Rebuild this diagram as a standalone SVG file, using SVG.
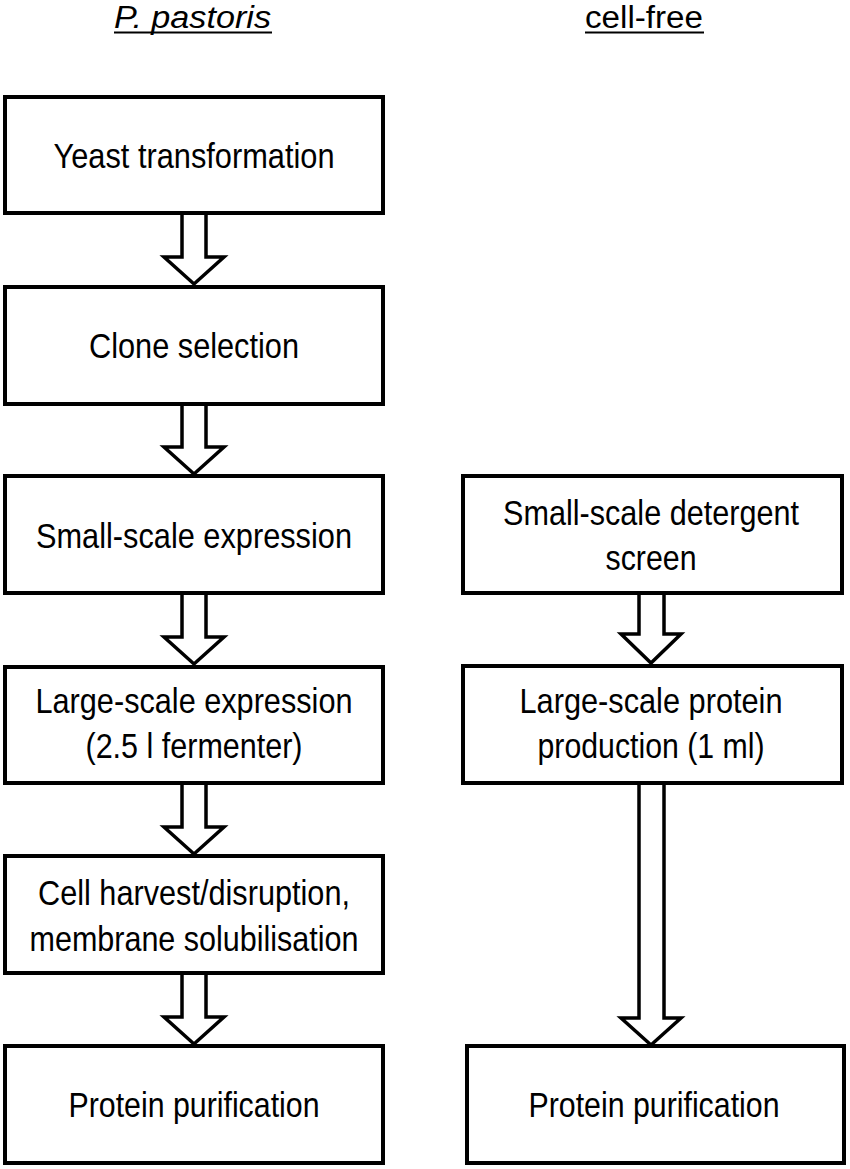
<svg xmlns="http://www.w3.org/2000/svg" width="850" height="1169" viewBox="0 0 850 1169">
<style>
  .box { fill: #fff; stroke: #000; stroke-width: 4; }
  .arr { fill: #fff; stroke: #000; stroke-width: 3.5; stroke-linejoin: miter; }
  .t { font-family: "Liberation Sans", Arial, sans-serif; font-size: 35px; fill: #000; text-anchor: middle; }
  .h { font-family: "Liberation Sans", Arial, sans-serif; font-size: 31px; fill: #000; }
  .ul { stroke: #000; stroke-width: 2; }
</style>
<rect width="850" height="1169" fill="#fff"/>
<g id="headers">
  <text class="h" x="114" y="28" font-style="italic" textLength="157" lengthAdjust="spacingAndGlyphs">P. pastoris</text>
  <line class="ul" x1="114" y1="32.5" x2="272" y2="32.5"/>
  <text class="h" x="585" y="28" textLength="118" lengthAdjust="spacingAndGlyphs">cell-free</text>
  <line class="ul" x1="585" y1="32.5" x2="704" y2="32.5"/>
</g>
<g id="connectors">
  <path class="arr" d="M182 215 V257 H164 L194 284 L224 257 H206 V215"/>
  <path class="arr" d="M182 405 V447 H164 L194 474 L224 447 H206 V405"/>
  <path class="arr" d="M182 595 V637 H164 L194 664 L224 637 H206 V595"/>
  <path class="arr" d="M182 785 V827 H164 L194 854 L224 827 H206 V785"/>
  <path class="arr" d="M182 975 V1017 H164 L194 1044 L224 1017 H206 V975"/>
  <path class="arr" d="M639 595 V634 H621 L651 663 L681 634 H664 V595"/>
  <path class="arr" d="M639 785 V1018 H621 L651 1045 L681 1018 H664 V785"/>
</g>
<g id="n1"><rect class="box" x="5" y="97" width="378" height="116"/>
  <text class="t" x="194" y="168" textLength="281" lengthAdjust="spacingAndGlyphs">Yeast transformation</text></g>
<g id="n2"><rect class="box" x="5" y="287" width="378" height="117"/>
  <text class="t" x="194" y="358" textLength="210" lengthAdjust="spacingAndGlyphs">Clone selection</text></g>
<g id="n3"><rect class="box" x="5" y="476" width="378" height="117"/>
  <text class="t" x="194" y="548" textLength="316" lengthAdjust="spacingAndGlyphs">Small-scale expression</text></g>
<g id="n4"><rect class="box" x="5" y="667" width="378" height="116"/>
  <text class="t" x="194" y="713" textLength="317" lengthAdjust="spacingAndGlyphs">Large-scale expression</text>
  <text class="t" x="194" y="758" textLength="217" lengthAdjust="spacingAndGlyphs">(2.5 l fermenter)</text></g>
<g id="n5"><rect class="box" x="5" y="856" width="378" height="117"/>
  <text class="t" x="194" y="905" textLength="312" lengthAdjust="spacingAndGlyphs">Cell harvest/disruption,</text>
  <text class="t" x="194" y="951" textLength="329" lengthAdjust="spacingAndGlyphs">membrane solubilisation</text></g>
<g id="n6"><rect class="box" x="5" y="1046" width="378" height="117"/>
  <text class="t" x="194" y="1117" textLength="251" lengthAdjust="spacingAndGlyphs">Protein purification</text></g>
<g id="r1"><rect class="box" x="463" y="476" width="379" height="117"/>
  <text class="t" x="651" y="525" textLength="296" lengthAdjust="spacingAndGlyphs">Small-scale detergent</text>
  <text class="t" x="651" y="570" textLength="91" lengthAdjust="spacingAndGlyphs">screen</text></g>
<g id="r2"><rect class="box" x="463" y="666" width="379" height="117"/>
  <text class="t" x="651" y="713" textLength="263" lengthAdjust="spacingAndGlyphs">Large-scale protein</text>
  <text class="t" x="651" y="758" textLength="227" lengthAdjust="spacingAndGlyphs">production (1 ml)</text></g>
<g id="r3"><rect class="box" x="467" y="1046" width="377" height="117"/>
  <text class="t" x="654" y="1117" textLength="251" lengthAdjust="spacingAndGlyphs">Protein purification</text></g>
</svg>
